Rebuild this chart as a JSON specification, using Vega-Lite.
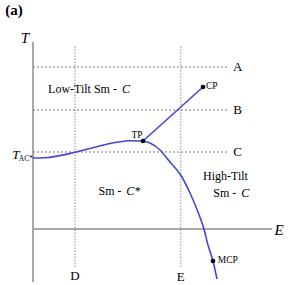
{
  "$schema": "https://vega.github.io/schema/vega-lite/v6.json",
  "width": 288,
  "height": 285,
  "padding": 0,
  "autosize": "none",
  "config": {"view": {"stroke": null}, "text": {"font": "'Liberation Serif', 'DejaVu Serif', serif"}},
  "datasets": {
    "segments": [
      {"kind": "axis", "x1": 0, "y1": -5.3, "x2": 0, "y2": 18.7},
      {"kind": "axis", "x1": 0, "y1": 0, "x2": 23.9, "y2": 0},
      {"kind": "dash", "x1": 0, "y1": 16.2, "x2": 19.6, "y2": 16.2},
      {"kind": "dash", "x1": 0, "y1": 11.9, "x2": 19.6, "y2": 11.9},
      {"kind": "dash", "x1": 0, "y1": 7.7, "x2": 19.6, "y2": 7.7},
      {"kind": "dot", "x1": 4.2, "y1": -3.8, "x2": 4.2, "y2": 18.4},
      {"kind": "dot", "x1": 14.77, "y1": -3.8, "x2": 14.77, "y2": 18.4}
    ],
    "curves": [
      {"branch": "left", "E": 0, "T": 7.1},
      {"branch": "left", "E": 1.2, "T": 7.13},
      {"branch": "left", "E": 4.2, "T": 7.67},
      {"branch": "left", "E": 6.37, "T": 8.23},
      {"branch": "left", "E": 8.37, "T": 8.67},
      {"branch": "left", "E": 9.7, "T": 8.83},
      {"branch": "left", "E": 11.0, "T": 8.8},
      {"branch": "right", "E": 11.0, "T": 8.8},
      {"branch": "right", "E": 11.7, "T": 8.6},
      {"branch": "right", "E": 12.7, "T": 7.9},
      {"branch": "right", "E": 13.7, "T": 6.7},
      {"branch": "right", "E": 14.77, "T": 5.4},
      {"branch": "right", "E": 15.7, "T": 3.6},
      {"branch": "right", "E": 16.5, "T": 1.7},
      {"branch": "right", "E": 17.1, "T": 0},
      {"branch": "right", "E": 17.5, "T": -1.6},
      {"branch": "right", "E": 18.0, "T": -3.2},
      {"branch": "right", "E": 18.4, "T": -5.0},
      {"branch": "cp", "E": 11.0, "T": 8.8},
      {"branch": "cp", "E": 17.0, "T": 14.2}
    ],
    "points": [
      {"name": "TP", "E": 11.0, "T": 8.8},
      {"name": "CP", "E": 17.0, "T": 14.2},
      {"name": "MCP", "E": 18.0, "T": -3.2}
    ],
    "labels": [
      {"group": "title", "text": "(a)", "E": -1.9, "T": 21.9},
      {"group": "axis", "text": "T", "E": -0.8, "T": 19.1},
      {"group": "axis", "text": "E", "E": 24.6, "T": -0.1},
      {"group": "letter", "text": "A", "E": 20.47, "T": 16.23},
      {"group": "letter", "text": "B", "E": 20.47, "T": 11.9},
      {"group": "letter", "text": "C", "E": 20.47, "T": 7.67},
      {"group": "letter", "text": "D", "E": 4.2, "T": -4.65},
      {"group": "letter", "text": "E", "E": 14.77, "T": -4.75},
      {"group": "region", "text": "Low-Tilt Sm -", "E": 4.95, "T": 14.0},
      {"group": "regionItalic", "text": "C", "E": 9.3, "T": 14.0},
      {"group": "region", "text": "Sm -", "E": 7.7, "T": 3.8},
      {"group": "regionItalic", "text": "C*", "E": 10.03, "T": 3.8},
      {"group": "region", "text": "High-Tilt", "E": 19.25, "T": 5.3},
      {"group": "region", "text": "Sm -", "E": 19.18, "T": 3.6},
      {"group": "regionItalic", "text": "C", "E": 21.23, "T": 3.6},
      {"group": "small", "text": "TP", "E": 10.4, "T": 9.4},
      {"group": "small", "text": "CP", "E": 17.87, "T": 14.3},
      {"group": "small", "text": "MCP", "E": 19.48, "T": -3.1},
      {"group": "tacT", "text": "T", "E": -1.72, "T": 7.4},
      {"group": "tacSub", "text": "AC*", "E": -0.715, "T": 7.0}
    ]
  },
  "encoding": {
    "x": {"type": "quantitative", "scale": {"domain": [-3.3, 25.5], "nice": false, "zero": false}, "axis": null},
    "y": {"type": "quantitative", "scale": {"domain": [-5.6, 22.9], "nice": false, "zero": false}, "axis": null}
  },
  "layer": [
    {
      "data": {"name": "segments"},
      "transform": [{"filter": "datum.kind === 'dot'"}],
      "mark": {"type": "rule", "color": "#b4b4b4", "strokeWidth": 1.5, "strokeDash": [1.5, 1.5]},
      "encoding": {"x": {"field": "x1"}, "y": {"field": "y1"}, "x2": {"field": "x2"}, "y2": {"field": "y2"}}
    },
    {
      "data": {"name": "segments"},
      "transform": [{"filter": "datum.kind === 'dash'"}],
      "mark": {"type": "rule", "color": "#555555", "strokeWidth": 0.8, "strokeDash": [2, 2]},
      "encoding": {"x": {"field": "x1"}, "y": {"field": "y1"}, "x2": {"field": "x2"}, "y2": {"field": "y2"}}
    },
    {
      "data": {"name": "segments"},
      "transform": [{"filter": "datum.kind === 'axis'"}],
      "mark": {"type": "rule", "color": "#8c8c8c", "strokeWidth": 1.5},
      "encoding": {"x": {"field": "x1"}, "y": {"field": "y1"}, "x2": {"field": "x2"}, "y2": {"field": "y2"}}
    },
    {
      "data": {"name": "curves"},
      "mark": {"type": "line", "color": "#4646d6", "strokeWidth": 1.6, "interpolate": "monotone"},
      "encoding": {"x": {"field": "E"}, "y": {"field": "T"}, "detail": {"field": "branch"}}
    },
    {
      "data": {"name": "points"},
      "mark": {"type": "circle", "color": "black", "opacity": 1, "size": 22},
      "encoding": {"x": {"field": "E"}, "y": {"field": "T"}}
    },
    {
      "data": {"name": "labels"},
      "transform": [{"filter": "datum.group === 'title'"}],
      "mark": {"type": "text", "fontSize": 15, "fontWeight": "bold", "align": "center", "baseline": "middle", "color": "black"},
      "encoding": {"x": {"field": "E"}, "y": {"field": "T"}, "text": {"field": "text"}}
    },
    {
      "data": {"name": "labels"},
      "transform": [{"filter": "datum.group === 'axis'"}],
      "mark": {"type": "text", "fontSize": 15, "fontStyle": "italic", "align": "center", "baseline": "middle", "color": "black"},
      "encoding": {"x": {"field": "E"}, "y": {"field": "T"}, "text": {"field": "text"}}
    },
    {
      "data": {"name": "labels"},
      "transform": [{"filter": "datum.group === 'letter'"}],
      "mark": {"type": "text", "fontSize": 13, "align": "center", "baseline": "middle", "color": "black"},
      "encoding": {"x": {"field": "E"}, "y": {"field": "T"}, "text": {"field": "text"}}
    },
    {
      "data": {"name": "labels"},
      "transform": [{"filter": "datum.group === 'region'"}],
      "mark": {"type": "text", "fontSize": 12, "align": "center", "baseline": "middle", "color": "black"},
      "encoding": {"x": {"field": "E"}, "y": {"field": "T"}, "text": {"field": "text"}}
    },
    {
      "data": {"name": "labels"},
      "transform": [{"filter": "datum.group === 'regionItalic'"}],
      "mark": {"type": "text", "fontSize": 12, "fontStyle": "italic", "align": "center", "baseline": "middle", "color": "black"},
      "encoding": {"x": {"field": "E"}, "y": {"field": "T"}, "text": {"field": "text"}}
    },
    {
      "data": {"name": "labels"},
      "transform": [{"filter": "datum.group === 'small'"}],
      "mark": {"type": "text", "fontSize": 9.5, "align": "center", "baseline": "middle", "color": "black"},
      "encoding": {"x": {"field": "E"}, "y": {"field": "T"}, "text": {"field": "text"}}
    },
    {
      "data": {"name": "labels"},
      "transform": [{"filter": "datum.group === 'tacT'"}],
      "mark": {"type": "text", "fontSize": 13, "fontStyle": "italic", "align": "center", "baseline": "middle", "color": "black"},
      "encoding": {"x": {"field": "E"}, "y": {"field": "T"}, "text": {"field": "text"}}
    },
    {
      "data": {"name": "labels"},
      "transform": [{"filter": "datum.group === 'tacSub'"}],
      "mark": {"type": "text", "fontSize": 7.5, "align": "center", "baseline": "middle", "color": "black"},
      "encoding": {"x": {"field": "E"}, "y": {"field": "T"}, "text": {"field": "text"}}
    }
  ]
}
